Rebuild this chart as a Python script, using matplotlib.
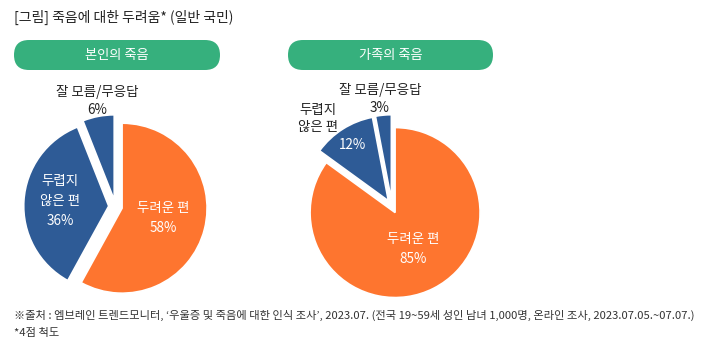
import matplotlib.pyplot as plt
from matplotlib.patches import FancyBboxPatch

plt.rcParams['font.family'] = ['Noto Sans CJK KR', 'DejaVu Sans']

# data
categories = ['두려운 편', '두렵지\n않은 편', '잘 모름/무응답']
self_death = [58, 36, 6]
family_death = [85, 12, 3]
panel_titles = ['본인의 죽음', '가족의 죽음']

title = '[그림] 죽음에 대한 두려움* (일반 국민)'
source = ('※출처 : 엠브레인 트렌드모니터, ‘우울증 및 죽음에 대한 인식 조사’, 2023.07. '
          '(전국 19~59세 성인 남녀 1,000명, 온라인 조사, 2023.07.05.~07.07.)')
note = '*4점 척도'

colors = ['#FE752F', '#2E5B96', '#2E5B96']
green = '#36B07D'

W, H = 703, 348
fig = plt.figure(figsize=(W / 100, H / 100), dpi=100)

# background axes in pixel coords
bg = fig.add_axes([0, 0, 1, 1])
bg.set_xlim(0, W)
bg.set_ylim(H, 0)
bg.axis('off')

bg.text(14, 17, title, fontsize=10, color='#222222', va='center', ha='left')

# pill headers
for (x0, x1), t in zip([(14, 220), (288, 493)], panel_titles):
    bg.add_patch(FancyBboxPatch((x0, 40), x1 - x0, 30,
                                boxstyle='round,pad=0,rounding_size=15',
                                fc=green, ec='none'))
    bg.text((x0 + x1) / 2, 55, t, fontsize=9.5, color='white',
            ha='center', va='center')

bg.text(14, 315, source, fontsize=8.1, color='#333333', va='center', ha='left')
bg.text(14, 333, note, fontsize=8.1, color='#333333', va='center', ha='left')

R = 85.0
HALF = 125.0
FS = 9.7


def pie_axes(cx, cy):
    return fig.add_axes([(cx - HALF) / W, (H - cy - HALF) / H, 2 * HALF / W, 2 * HALF / H])


def px(c, x, y):
    cx, cy = c
    return (x - cx) / R, (cy - y) / R


centers = [(115.5, 206.5), (392, 206.5)]
for i, (c, vals) in enumerate(zip(centers, [self_death, family_death])):
    ax = pie_axes(*c)
    ax.pie(vals, colors=colors, startangle=90, counterclock=False,
           explode=[0.08] * len(vals),
           wedgeprops=dict(edgecolor='white', linewidth=1.2))
    ax.set_xlim(-HALF / R, HALF / R)
    ax.set_ylim(-HALF / R, HALF / R)
    ax.set_aspect('equal')
    ax.axis('off')
    kw = dict(fontsize=FS, ha='center', va='center')
    if i == 0:
        ax.text(*px(c, 97, 92), categories[2], color='#222222', **kw)
        ax.text(*px(c, 97, 110), f'{vals[2]}%', color='#222222', **kw)
        ax.text(*px(c, 60, 201), f'{categories[1]}\n{vals[1]}%', color='white',
                linespacing=1.55, **kw)
        ax.text(*px(c, 163, 218), f'{categories[0]}\n{vals[0]}%', color='white',
                linespacing=1.55, **kw)
    else:
        ax.text(*px(c, 380, 90), categories[2], color='#222222', **kw)
        ax.text(*px(c, 380, 108), f'{vals[2]}%', color='#222222', **kw)
        ax.text(*px(c, 318, 118.5), categories[1], color='#222222', linespacing=1.3, **kw)
        ax.text(*px(c, 352, 145), f'{vals[1]}%', color='white', **kw)
        ax.text(*px(c, 413, 249), f'{categories[0]}\n{vals[0]}%', color='white',
                linespacing=1.6, **kw)

fig.savefig('out.png', dpi=100)
